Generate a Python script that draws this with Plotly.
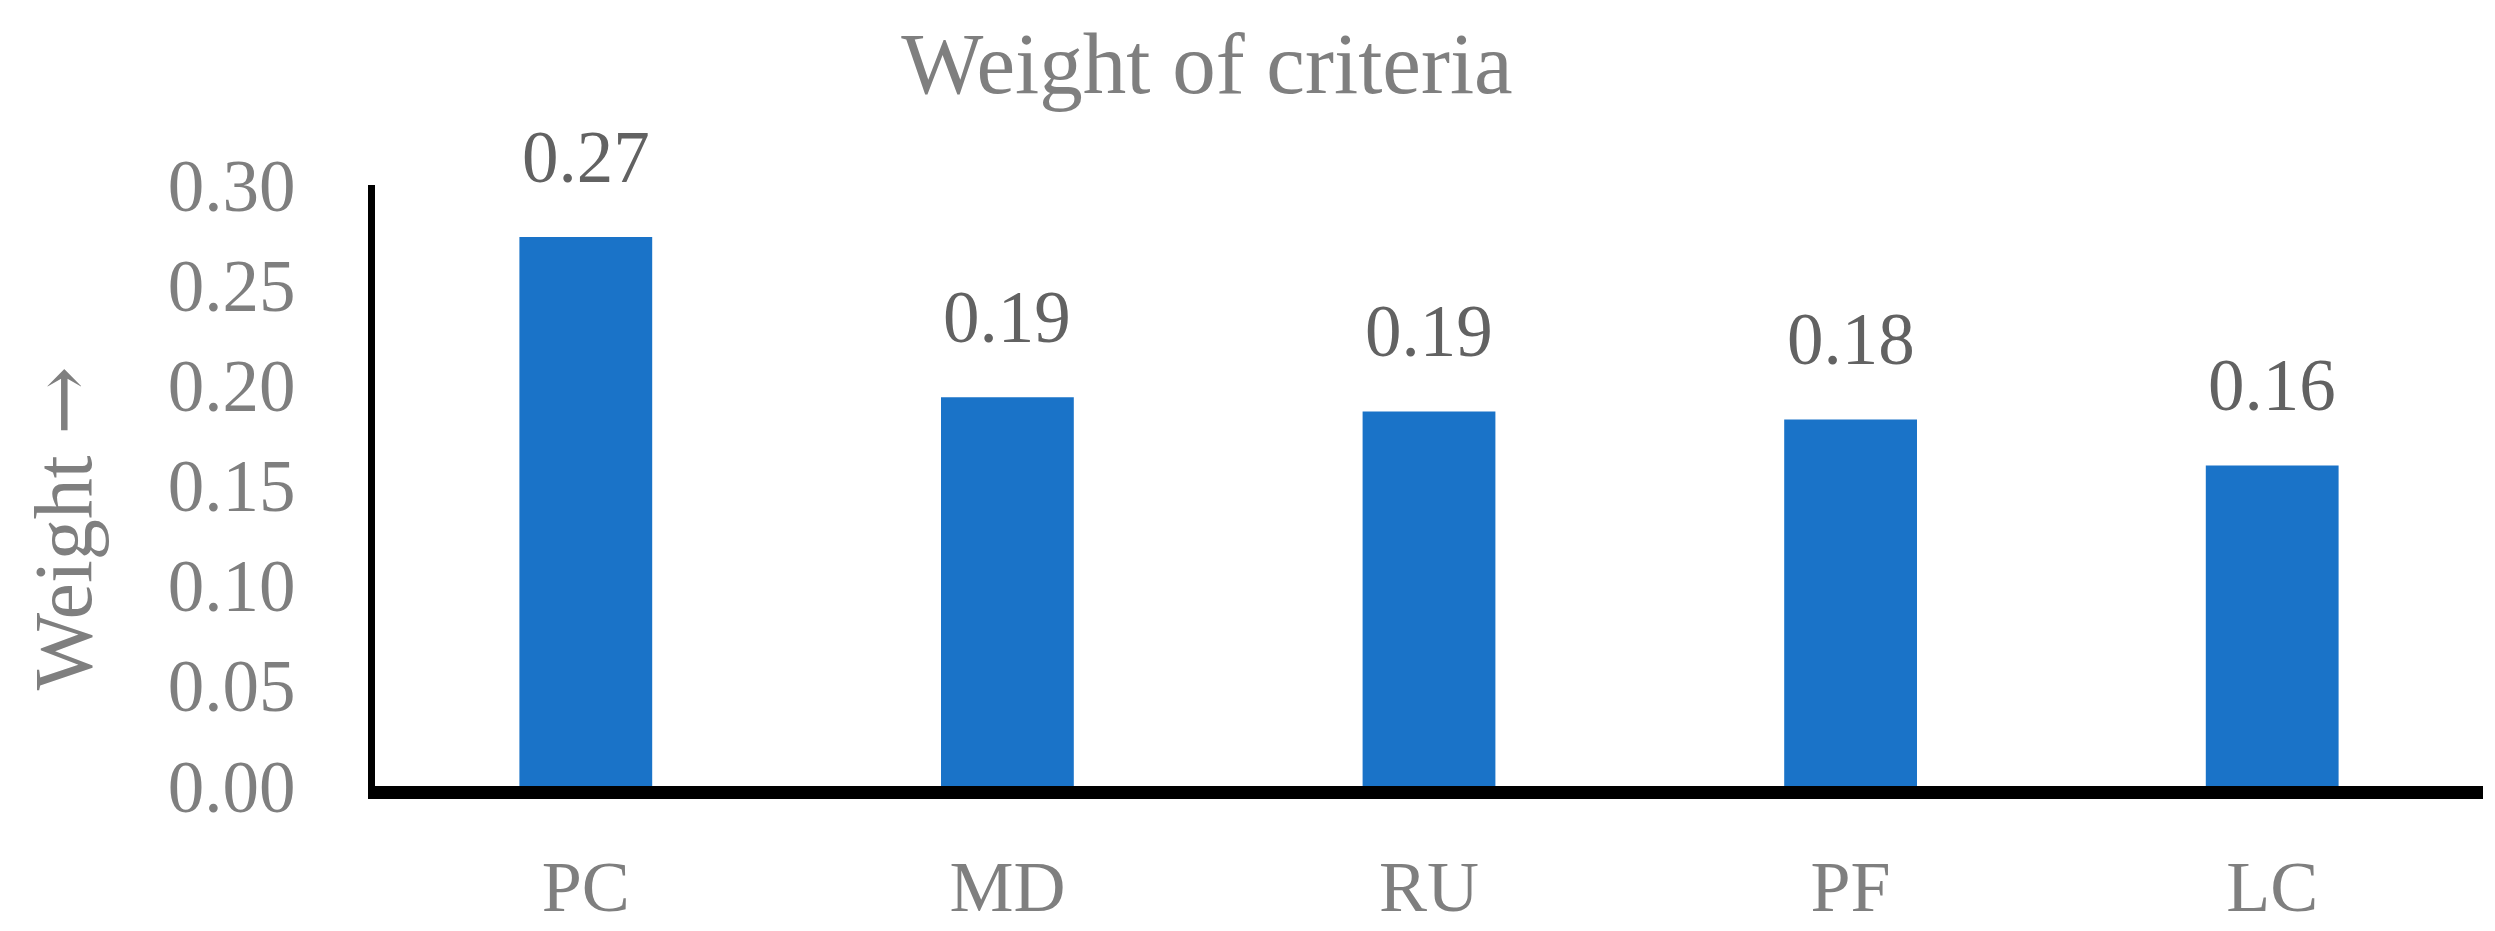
import plotly.graph_objects as go

categories = ["PC", "MD", "RU", "PF", "LC"]
weights = [0.274, 0.194, 0.187, 0.183, 0.160]
y_ticks = [0.00, 0.05, 0.10, 0.15, 0.20, 0.25, 0.30]
y_tick_labels = ["0.00", "0.05", "0.10", "0.15", "0.20", "0.25", "0.30"]

FONT = "Liberation Serif, Times New Roman, serif"
W, H = 2495, 931
L, R, T, B = 367, 20, 177, 136

fig = go.Figure()
fig.add_trace(go.Bar(
    x=categories, y=weights,
    marker=dict(color="#1a73c8", line=dict(width=0)),
    hoverinfo="x+y",
))

for c, v in zip(categories, weights):
    fig.add_annotation(
        x=c, y=v, text=f"{v:.2f}", showarrow=False,
        yanchor="bottom", yshift=37,
        font=dict(family=FONT, size=73, color="#626262"),
    )

fig.add_annotation(
    xref="paper", yref="paper",
    x=(54 - L) / (W - L - R), y=(H - B - 530) / (H - T - B),
    text='Weight <span style="font-family:DejaVu Serif">→</span>',
    textangle=-90, showarrow=False,
    xanchor="center", yanchor="middle",
    font=dict(family=FONT, size=82, color="#7f7f7f"),
)

fig.update_layout(
    width=W, height=H,
    margin=dict(l=L, r=R, t=T, b=B, pad=0),
    paper_bgcolor="white", plot_bgcolor="white",
    showlegend=False,
    bargap=0.685,
    title=dict(
        text="Weight of criteria", x=1199 / W, xref="container", xanchor="center",
        y=1 - 55 / H, yref="container", yanchor="middle",
        font=dict(family=FONT, size=87, color="#7f7f7f"),
    ),
    font=dict(family=FONT),
)
fig.update_xaxes(
    showline=True, linecolor="black", linewidth=13,
    showgrid=False, zeroline=False, ticks="",
    ticklabelstandoff=26,
    tickfont=dict(family=FONT, size=72, color="#7f7f7f"),
)
fig.update_yaxes(
    range=[0, 0.30], showline=True, linecolor="black", linewidth=7,
    showgrid=False, zeroline=False, ticks="",
    tickvals=y_ticks, ticktext=y_tick_labels,
    ticklabelstandoff=58,
    tickfont=dict(family=FONT, size=73, color="#7f7f7f"),
)

fig.write_html("out.html")
